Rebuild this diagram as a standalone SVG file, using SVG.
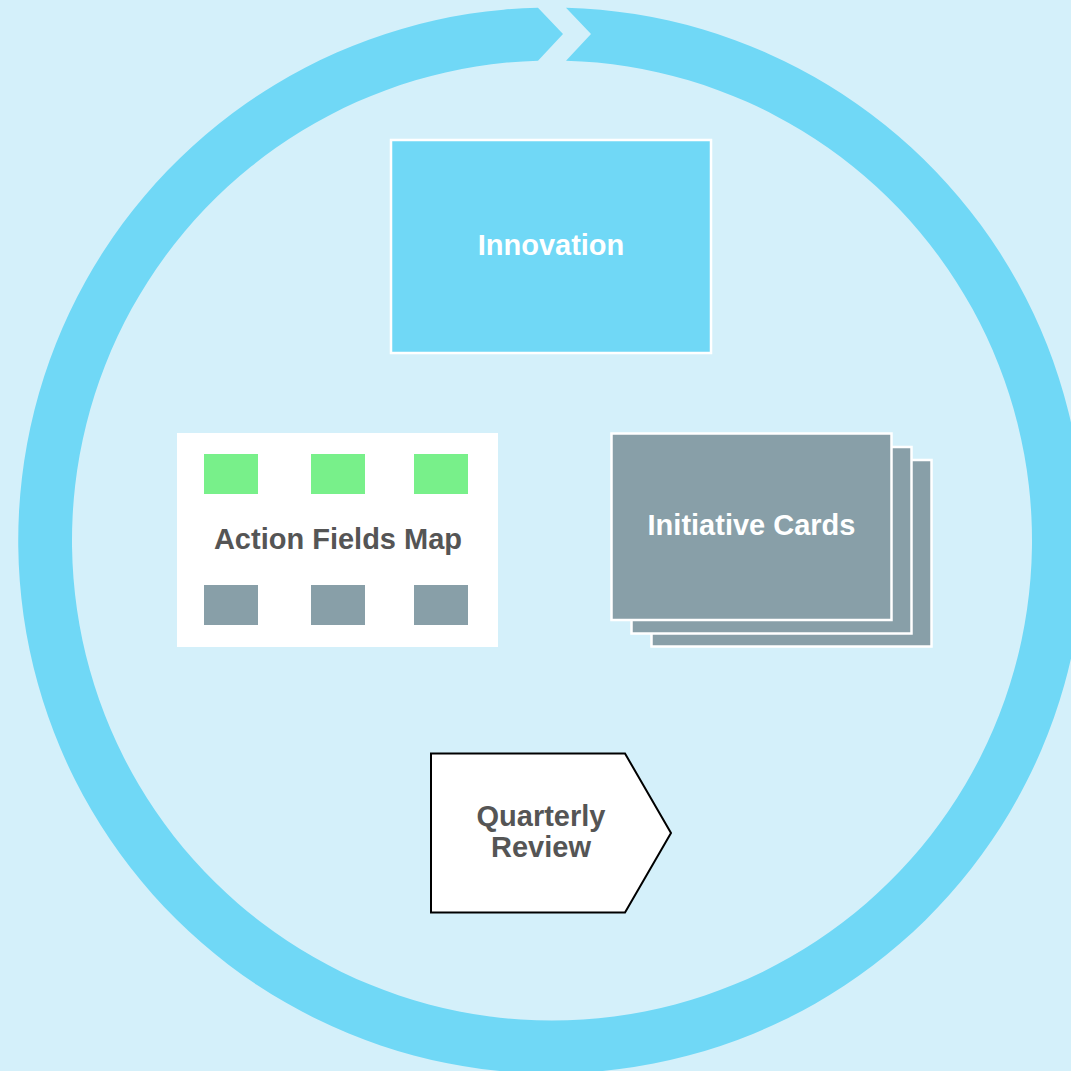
<svg xmlns="http://www.w3.org/2000/svg" width="1071" height="1071" viewBox="0 0 1071 1071">
<style>
.lbl{font-family:"Liberation Sans",Arial,sans-serif;font-weight:bold;font-size:29px;text-anchor:middle}
.w{fill:#ffffff}
.g{fill:#555555}
.card{fill:#889FA8;stroke:#ffffff;stroke-width:2.5}
.grn{fill:#78F08A}
.gry{fill:#889FA8}
</style>
<rect x="0" y="0" width="1071" height="1071" fill="#D4F0FA"/>
<g id="cycle">
<path d="M 566 7.7 A 533 533 0 1 1 538 7.66 L 563 34 L 538 60.7 A 480 480 0 1 0 566 60.7 L 591 34 Z" fill="#70D8F6"/>
</g>
<g id="innovation">
<rect x="391" y="140" width="320" height="213" fill="#70D8F6" stroke="#ffffff" stroke-width="2.5"/>
<text class="lbl w" x="551" y="255">Innovation</text>
</g>
<g id="action-fields-map">
<rect x="177" y="433" width="321" height="214" fill="#ffffff"/>
<rect class="grn" x="204" y="454" width="54" height="40"/>
<rect class="grn" x="311" y="454" width="54" height="40"/>
<rect class="grn" x="414" y="454" width="54" height="40"/>
<rect class="gry" x="204" y="585" width="54" height="40"/>
<rect class="gry" x="311" y="585" width="54" height="40"/>
<rect class="gry" x="414" y="585" width="54" height="40"/>
<text class="lbl g" x="338" y="549">Action Fields Map</text>
</g>
<g id="initiative-cards">
<rect class="card" x="651.5" y="460" width="280" height="186.5"/>
<rect class="card" x="631.5" y="447" width="280" height="186.5"/>
<rect class="card" x="611.5" y="433.5" width="280" height="186.5"/>
<text class="lbl w" x="751.5" y="535">Initiative Cards</text>
</g>
<g id="quarterly-review">
<path d="M 431 753.5 L 625 753.5 L 671 833 L 625 912.5 L 431 912.5 Z" fill="#ffffff" stroke="#000000" stroke-width="2"/>
<text class="lbl g" x="541" y="826">Quarterly</text>
<text class="lbl g" x="541" y="857">Review</text>
</g>
<g id="connectors"></g>
</svg>
